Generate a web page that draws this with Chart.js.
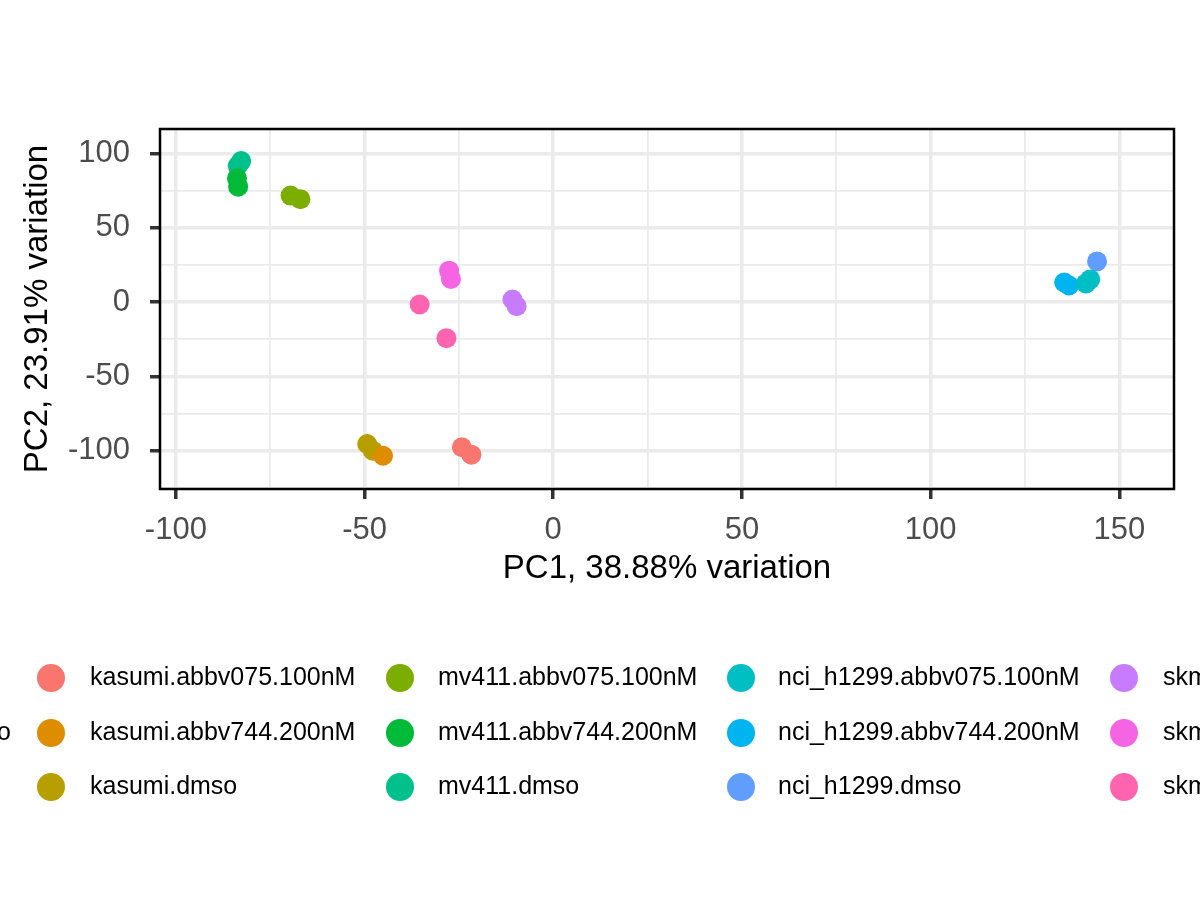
<!DOCTYPE html>
<html>
<head>
<meta charset="utf-8">
<script src="https://cdn.jsdelivr.net/npm/chart.js@4.4.0/dist/chart.umd.min.js"></script>
<style>
  html, body { margin: 0; padding: 0; background: #fff; overflow: hidden; }
  #wrap { width: 1200px; height: 900px; }
</style>
</head>
<body>
<div id="wrap"><canvas id="chart" width="1200" height="900"></canvas></div>
<script>
const groups = [
  "kasumi.abbv075.100nM", "kasumi.abbv744.200nM", "kasumi.dmso",
  "mv411.abbv075.100nM", "mv411.abbv744.200nM", "mv411.dmso",
  "nci_h1299.abbv075.100nM", "nci_h1299.abbv744.200nM", "nci_h1299.dmso",
  "skm1.abbv075.100nM", "skm1.abbv744.200nM", "skm1.dmso"
];
const groupColors = [
  "#F8766D", "#DE8C00", "#B79F00",
  "#7CAE00", "#00BA38", "#00C08B",
  "#00BFC4", "#00B4F0", "#619CFF",
  "#C77CFF", "#F564E3", "#FF64B0"
];
// PC1 / PC2 per sample, one list per group
const pc1 = [
  [-24.2, -21.7], [-45.1], [-49.3, -47.8],
  [-69.6, -67.0], [-83.8, -83.5], [-82.7, -83.6],
  [141.2, 142.3], [135.4, 136.7], [144.1],
  [-10.8, -9.7], [-27.6, -27.1], [-35.4, -28.3]
];
const pc2 = [
  [-97.7, -102.7], [-103.4], [-95.5, -100.0],
  [71.6, 69.2], [83.2, 77.6], [94.8, 91.7],
  [12.5, 15.2], [13.1, 11.1], [27.3],
  [1.7, -2.8], [21.1, 15.5], [-1.7, -24.3]
];
const xLimits = [-104.2, 164.5];
const yLimits = [-125.8, 116.4];
const legendTitle = "group_combo";

const fontFamily = "'Liberation Sans', Arial, Helvetica, sans-serif";

const datasets = groups.map((g, i) => ({
  label: g,
  data: pc1[i].map((x, j) => ({ x: x, y: pc2[i][j] })),
  backgroundColor: groupColors[i],
  borderWidth: 0,
  pointRadius: 10,
  pointHoverRadius: 10
}));

// draws the black panel box round the plot area
const panelBorder = {
  id: "panelBorder",
  afterDraw(chart) {
    const a = chart.chartArea, ctx = chart.ctx;
    ctx.save();
    ctx.strokeStyle = "#000";
    ctx.lineWidth = 2.5;
    ctx.strokeRect(a.left, a.top, a.right - a.left, a.bottom - a.top);
    ctx.restore();
  }
};

// ggplot style legend below the plot, 3 rows by column
const bottomLegend = {
  id: "bottomLegend",
  afterDraw(chart) {
    const ctx = chart.ctx;
    const colKey = [51, 400, 741, 1124];
    const colText = [90, 438, 778, 1163];
    const rowY = [678, 733, 787];
    ctx.save();
    ctx.font = "25px " + fontFamily;
    ctx.textBaseline = "middle";
    ctx.fillStyle = "#000";
    ctx.textAlign = "right";
    ctx.fillText(legendTitle, 11, rowY[1]);
    ctx.textAlign = "left";
    chart.data.datasets.forEach((ds, i) => {
      const c = Math.floor(i / 3), r = i % 3;
      ctx.beginPath();
      ctx.fillStyle = ds.backgroundColor;
      ctx.arc(colKey[c], rowY[r], 14, 0, Math.PI * 2);
      ctx.fill();
      ctx.fillStyle = "#000";
      ctx.fillText(ds.label, colText[c], rowY[r]);
    });
    ctx.restore();
  }
};

const isMajor = (v) => Math.abs(v % 50) < 1e-9;

new Chart("chart", {
  type: "scatter",
  data: { datasets: datasets },
  plugins: [panelBorder, bottomLegend],
  options: {
    responsive: false,
    animation: false,
    devicePixelRatio: 1,
    layout: { padding: { top: 129, right: 26, bottom: 300, left: 0 } },
    plugins: {
      legend: { display: false },
      tooltip: { enabled: false }
    },
    scales: {
      x: {
        type: "linear",
        min: xLimits[0],
        max: xLimits[1],
        afterFit: (s) => { s.height = 111; },
        border: { display: false },
        grid: {
          color: "#EBEBEB",
          lineWidth: (c) => isMajor(c.tick.value) ? 3.5 : 1.8,
          tickColor: (c) => isMajor(c.tick.value) ? "#333333" : "rgba(0,0,0,0)",
          tickLength: 10,
          tickWidth: 3.5
        },
        ticks: {
          stepSize: 25,
          includeBounds: false,
          autoSkip: false,
          maxRotation: 0,
          padding: 13,
          color: "#4D4D4D",
          font: { family: fontFamily, size: 31 },
          callback: (v) => isMajor(v) ? String(v) : ""
        },
        title: {
          display: true,
          text: "PC1, 38.88% variation",
          color: "#000",
          font: { family: fontFamily, size: 33 },
          padding: { top: 0, bottom: 11 }
        }
      },
      y: {
        type: "linear",
        min: yLimits[0],
        max: yLimits[1],
        afterFit: (s) => { s.width = 160; },
        border: { display: false },
        grid: {
          color: "#EBEBEB",
          lineWidth: (c) => isMajor(c.tick.value) ? 3.5 : 1.8,
          tickColor: (c) => isMajor(c.tick.value) ? "#333333" : "rgba(0,0,0,0)",
          tickLength: 10,
          tickWidth: 3.5
        },
        ticks: {
          stepSize: 25,
          includeBounds: false,
          autoSkip: false,
          padding: 20,
          color: "#4D4D4D",
          font: { family: fontFamily, size: 31 },
          callback: (v) => isMajor(v) ? String(v) : ""
        },
        title: {
          display: true,
          text: "PC2, 23.91% variation",
          color: "#000",
          font: { family: fontFamily, size: 33 },
          padding: { top: 18, bottom: 0 }
        }
      }
    }
  }
});
</script>
</body>
</html>
